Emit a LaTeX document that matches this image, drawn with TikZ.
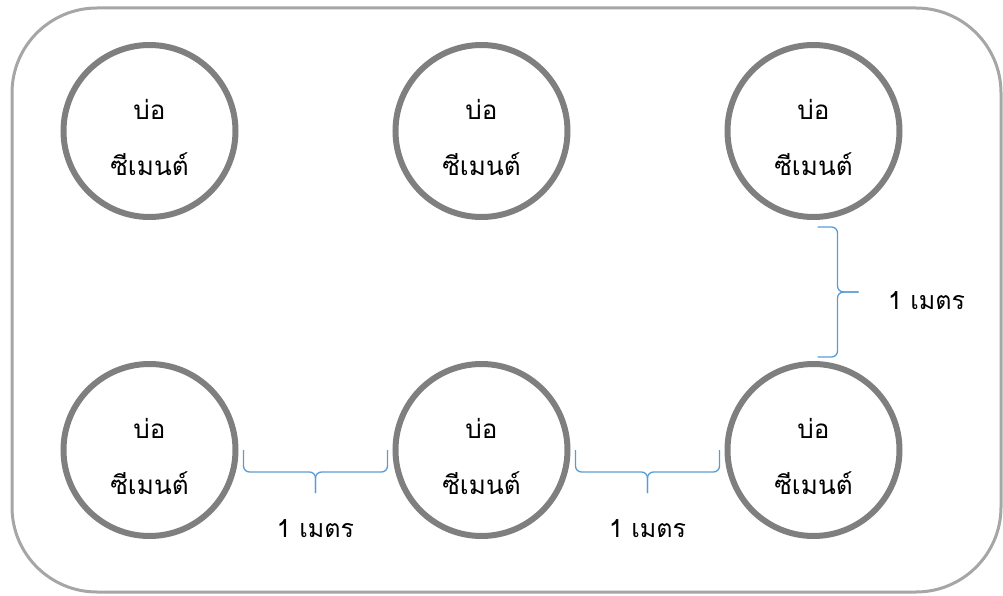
\documentclass[tikz,border=0pt]{standalone}
\usepackage{fontspec}
\newfontfamily\thaifont[Script=Thai]{Loma}
\usetikzlibrary{matrix,positioning,calc}
\definecolor{pondgray}{HTML}{7F7F7F}
\definecolor{framegray}{HTML}{A6A6A6}
\definecolor{braceblue}{HTML}{5B9BD5}
\newcommand\pondtext{\begin{tabular}{@{}c@{}}บ่อ\\ซีเมนต์\end{tabular}}
\begin{document}
\begin{tikzpicture}[
x=1pt,y=-1pt,
frame/.style={
  draw=framegray,
  line width=3pt,
  rounded corners=85pt
  },
field/.style={
  matrix of nodes,
  nodes={
    draw=pondgray,
    line width=6pt,
    circle,
    minimum size=172pt,
    inner sep=0pt,
    text depth=40pt,
    font=\thaifont\fontsize{26}{56}\selectfont
    },
  column sep=154pt,
  row sep=141pt
  },
gap/.style={
  draw=braceblue,
  line width=1.3pt,
  rounded corners=6pt
  },
gaplabel/.style={
  font=\thaifont\fontsize{25}{28}\selectfont
  }
]
\useasboundingbox (0,0) rectangle (1003,596);
\draw[frame] (12,8) rectangle (1001,592);
\matrix[field] (mat) at (481.5,290.5)
{
\pondtext & \pondtext & \pondtext \\
\pondtext & \pondtext & \pondtext \\
};
% braces under the bottom row
\foreach \ci in {1,2}
{
  \pgfmathtruncatemacro\cn{\ci+1}
  \coordinate (l\ci) at ($(mat-2-\ci.east)+(5,0)$);
  \coordinate (r\ci) at ($(mat-2-\cn.west)+(-5,0)$);
  \coordinate (m\ci) at ($(l\ci)!.5!(r\ci)+(0,22)$);
  \coordinate (t\ci) at ($(m\ci)+(0,21)$);
  \draw[gap] (l\ci) |- (m\ci) -- (t\ci);
  \draw[gap] (r\ci) |- (m\ci) -- (t\ci);
  \node[gaplabel,below=23pt of t\ci] (d\ci) {1 เมตร};
}
% brace on the right
\coordinate (l3) at ($(mat-1-3.south)+(4,7)$);
\coordinate (r3) at ($(mat-2-3.north)+(4,-4)$);
\coordinate (m3) at ($(l3)!.5!(r3)+(20,0)$);
\coordinate (t3) at ($(m3)+(21,0)$);
\draw[gap] (l3) -| (m3) -- (t3);
\draw[gap] (r3) -| (m3) -- (t3);
\node[gaplabel,right=26pt of t3,yshift=-9pt] (d3) {1 เมตร};
\end{tikzpicture}
\end{document}
